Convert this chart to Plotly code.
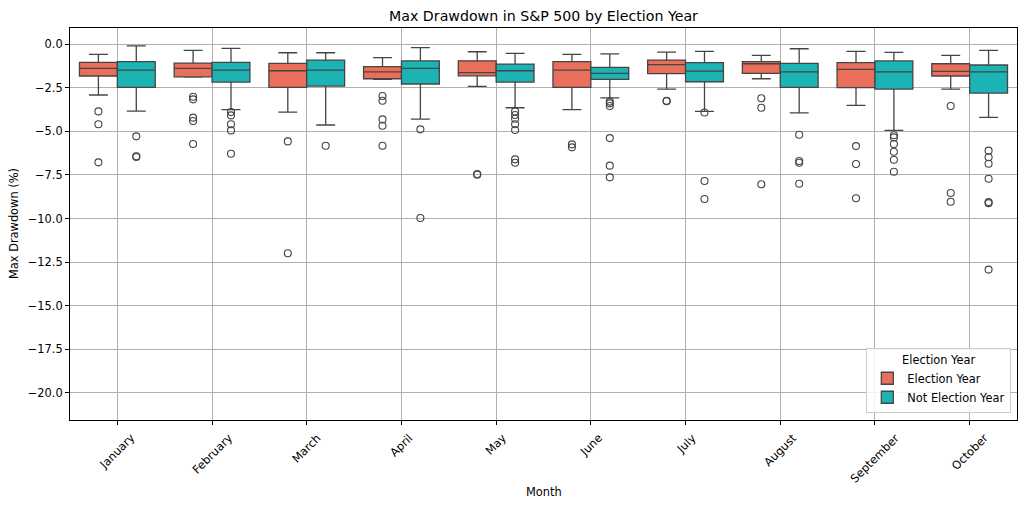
import plotly.graph_objects as go

months = ["January", "February", "March", "April", "May", "June",
          "July", "August", "September", "October"]

# Election Year box statistics (%)
elec_upper = [-0.59, -0.36, -0.50, -0.78, -0.44, -0.59, -0.46, -0.65, -0.42, -0.65]
elec_q3 = [-1.05, -1.09, -1.11, -1.29, -0.96, -1.01, -0.92, -1.01, -1.07, -1.13]
elec_median = [-1.39, -1.40, -1.53, -1.60, -1.64, -1.49, -1.18, -1.13, -1.45, -1.57]
elec_q1 = [-1.83, -1.88, -2.48, -1.99, -1.82, -2.48, -1.69, -1.68, -2.50, -1.83]
elec_lower = [-2.92, -1.89, -3.90, -2.02, -2.43, -3.76, -2.58, -1.99, -3.51, -2.58]
elec_outliers = [
    [-3.86, -4.60, -6.78],
    [-3.02, -3.17, -4.22, -4.41, -5.73],
    [-5.58, -11.99],
    [-2.98, -3.25, -4.32, -4.68, -5.83],
    [-7.45, -7.49],
    [-5.75, -5.92],
    [-3.25, -3.28],
    [-3.11, -3.65, -8.04],
    [-5.85, -6.88, -8.84],
    [-3.55, -8.54, -9.04],
]

# Not Election Year box statistics (%)
non_upper = [-0.10, -0.25, -0.50, -0.21, -0.53, -0.56, -0.42, -0.27, -0.48, -0.36]
non_q3 = [-1.01, -1.05, -0.92, -0.96, -1.15, -1.34, -1.07, -1.11, -0.97, -1.20]
non_median = [-1.49, -1.49, -1.49, -1.39, -1.53, -1.68, -1.55, -1.60, -1.59, -1.60]
non_q1 = [-2.48, -2.18, -2.41, -2.29, -2.18, -2.02, -2.16, -2.48, -2.58, -2.81]
non_lower = [-3.84, -3.76, -4.64, -4.30, -3.65, -3.08, -3.86, -3.95, -4.95, -4.20]
non_outliers = [
    [-5.29, -6.43, -6.47],
    [-3.90, -4.09, -4.60, -4.95, -6.29],
    [-5.83],
    [-4.89, -9.97],
    [-3.86, -4.07, -4.28, -4.60, -4.93, -6.61, -6.80],
    [-3.30, -3.40, -3.55, -5.39, -6.97, -7.64],
    [-3.92, -7.85, -8.88],
    [-5.20, -6.70, -6.80, -8.01],
    [-5.23, -5.35, -5.73, -6.17, -6.63, -7.32],
    [-6.11, -6.49, -6.86, -7.72, -9.05, -9.12, -12.93],
]

ORANGE = "#EA6F5A"
TEAL = "#1BB3B3"
EDGE = "#454545"
FONT = "DejaVu Sans"
OFF = 0.2
BW = 0.4
FS = 11.4

idx = list(range(len(months)))
fig = go.Figure()

series = [
    ("Election Year", ORANGE, -OFF, elec_q1, elec_median, elec_q3, elec_lower, elec_upper, elec_outliers),
    ("Not Election Year", TEAL, OFF, non_q1, non_median, non_q3, non_lower, non_upper, non_outliers),
]

for name, color, off, q1, med, q3, lo, hi, outs in series:
    xs = [i + off for i in idx]
    fig.add_trace(go.Box(
        name=name, x=xs, q1=q1, median=med, q3=q3,
        lowerfence=lo, upperfence=hi, width=BW,
        fillcolor=color, line=dict(color=EDGE, width=1.3),
        whiskerwidth=0.5, boxpoints=False, showlegend=True,
    ))
    ox, oy = [], []
    for i, vals in enumerate(outs):
        for v in vals:
            ox.append(i + off)
            oy.append(v)
    fig.add_trace(go.Scatter(
        x=ox, y=oy, mode="markers", showlegend=False,
        marker=dict(symbol="circle-open", size=7, color=EDGE, line=dict(width=1.1, color=EDGE)),
    ))

annotations = []
for i, m in enumerate(months):
    annotations.append(dict(
        text=m, x=i, xref="x", y=0, yref="paper", xanchor="center", yanchor="top",
        yshift=-8, textangle=-45, showarrow=False, font=dict(size=FS, family=FONT, color="black"),
    ))
annotations.append(dict(
    text="Month", x=0.5, xref="paper", y=-0.184, yref="paper", xanchor="center", yanchor="middle",
    showarrow=False, font=dict(size=FS, family=FONT, color="black"),
))
annotations.append(dict(
    text="Max Drawdown (%)", x=-0.0591, xref="paper", y=0.5, yref="paper", xanchor="center",
    yanchor="middle", textangle=-90, showarrow=False, font=dict(size=FS, family=FONT, color="black"),
))

fig.update_layout(
    width=1024, height=508,
    margin=dict(l=70, r=7, t=28, b=88),
    paper_bgcolor="white", plot_bgcolor="white",
    font=dict(family=FONT, size=FS, color="black"),
    title=dict(text="Max Drawdown in S&P 500 by Election Year", x=0.5, xref="paper", xanchor="center",
               y=0.968, yanchor="middle", font=dict(size=14.2, family=FONT, color="black")),
    legend=dict(
        title=dict(text="Election Year", side="top center", font=dict(size=FS)),
        x=0.994, xanchor="right", y=0.018, yanchor="bottom",
        bgcolor="rgba(255,255,255,0.85)", bordercolor="#cccccc", borderwidth=1,
        font=dict(size=FS, family=FONT), tracegroupgap=0,
    ),
    showlegend=True,
    annotations=annotations,
)

fig.update_xaxes(
    range=[-0.5, 9.5], tickmode="array", tickvals=idx, ticktext=[""] * len(idx),
    showgrid=True, gridcolor="#b0b0b0", gridwidth=0.8, automargin=False,
    showline=True, linecolor="black", linewidth=1, mirror=True,
    ticks="outside", ticklen=4, tickcolor="black", zeroline=False,
)
fig.update_yaxes(
    range=[-21.55, 0.92], tickmode="array",
    tickvals=[0.0, -2.5, -5.0, -7.5, -10.0, -12.5, -15.0, -17.5, -20.0],
    tickformat=".1f", showgrid=True, gridcolor="#b0b0b0", gridwidth=0.8, automargin=False,
    showline=True, linecolor="black", linewidth=1, mirror=True,
    ticks="outside", ticklen=4, tickcolor="black", zeroline=False,
    tickfont=dict(size=FS),
)

fig.write_html(
    "out.html",
    config={"displayModeBar": False},
    post_script="document.body.style.margin='0px';document.body.style.overflow='hidden';",
)
